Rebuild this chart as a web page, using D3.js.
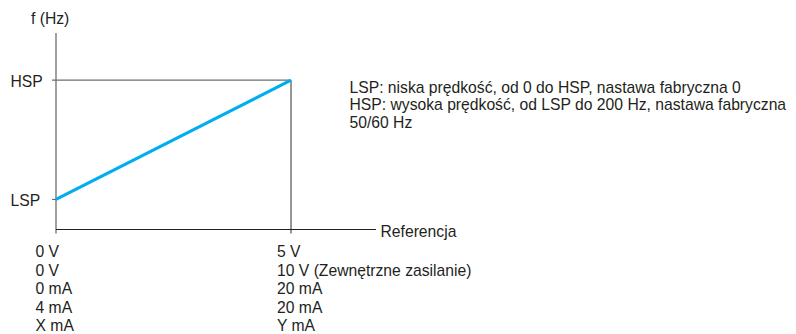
<!DOCTYPE html>
<html>
<head>
<meta charset="utf-8">
<script src="https://cdn.jsdelivr.net/npm/d3@7"></script>
<style>
  html, body { margin: 0; padding: 0; background: #fff; }
  svg { display: block; }
  text { font-family: "Liberation Sans", Arial, sans-serif; fill: #231f20; }
</style>
</head>
<body>
<svg id="chart" width="796" height="334"></svg>
<script>
// Reference signal (normalised 0..1) and output frequency levels
const refValues = [0, 1];
const freqLevels = ["LSP", "HSP"];
const freqValues = [0.153, 0.76];   // LSP, HSP relative to axis height
const axisTitleY = "f (Hz)";
const axisTitleX = "Referencja";
const minRefLabels = ["0 V", "0 V", "0 mA", "4 mA", "X mA"];
const maxRefLabels = ["5 V", "10 V (Zewnętrzne zasilanie)", "20 mA", "20 mA", "Y mA"];
const notes = [
  "LSP: niska prędkość, od 0 do HSP, nastawa fabryczna 0",
  "HSP: wysoka prędkość, od LSP do 200 Hz, nastawa fabryczna",
  "50/60 Hz"
];

const svg = d3.select("#chart");
const fontSize = 15.7;

const x = d3.scaleLinear().domain([0, 1]).range([56, 291]);
const y = d3.scaleLinear().domain([0, 1]).range([229.5, 33]);
const xEnd = 376;

// y axis
svg.append("line")
  .attr("x1", x(0)).attr("x2", x(0))
  .attr("y1", y(1)).attr("y2", y(0) + 4)
  .attr("stroke", "#6d6e71").attr("stroke-width", 1.3);

// HSP guide line (with tick) and vertical guide at max reference
const hsp = freqValues[1], lsp = freqValues[0];
svg.append("line")
  .attr("x1", x(0) - 4).attr("x2", x(1))
  .attr("y1", y(hsp)).attr("y2", y(hsp))
  .attr("stroke", "#6d6e71").attr("stroke-width", 1.1);
svg.append("line")
  .attr("x1", x(1)).attr("x2", x(1))
  .attr("y1", y(hsp)).attr("y2", y(0) + 4)
  .attr("stroke", "#414042").attr("stroke-width", 1.1);
// LSP tick
svg.append("line")
  .attr("x1", x(0) - 4).attr("x2", x(0))
  .attr("y1", y(lsp)).attr("y2", y(lsp))
  .attr("stroke", "#6d6e71").attr("stroke-width", 1.1);

// x axis
svg.append("line")
  .attr("x1", x(0)).attr("x2", xEnd)
  .attr("y1", y(0)).attr("y2", y(0))
  .attr("stroke", "#231f20").attr("stroke-width", 1.2);

// frequency ramp
const line = d3.line().x((d, i) => x(d)).y((d, i) => y(freqValues[i]));
svg.append("path")
  .datum(refValues)
  .attr("d", line)
  .attr("fill", "none")
  .attr("stroke", "#00aeef")
  .attr("stroke-width", 3.2);

// level labels
svg.selectAll(".lvl").data(freqLevels).join("text")
  .attr("class", "lvl")
  .attr("x", 10.5)
  .attr("y", (d, i) => y(freqValues[i]) + 7)
  .attr("font-size", fontSize)
  .text(d => d);

// axis titles
svg.append("text").attr("x", 31).attr("y", 23.5)
  .attr("font-size", fontSize).text(axisTitleY);
svg.append("text").attr("x", 380.5).attr("y", 236.5)
  .attr("font-size", fontSize).text(axisTitleX);

// reference range labels
const rowY = i => 257 + i * 18.5;
svg.selectAll(".minl").data(minRefLabels).join("text")
  .attr("class", "minl")
  .attr("x", 35.5).attr("y", (d, i) => rowY(i))
  .attr("font-size", fontSize).text(d => d);
svg.selectAll(".maxl").data(maxRefLabels).join("text")
  .attr("class", "maxl")
  .attr("x", 277).attr("y", (d, i) => rowY(i))
  .attr("font-size", fontSize).text(d => d);

// notes
svg.selectAll(".note").data(notes).join("text")
  .attr("class", "note")
  .attr("x", 349.5).attr("y", (d, i) => 92.5 + i * 17.5)
  .attr("font-size", fontSize).text(d => d);
</script>
</body>
</html>
